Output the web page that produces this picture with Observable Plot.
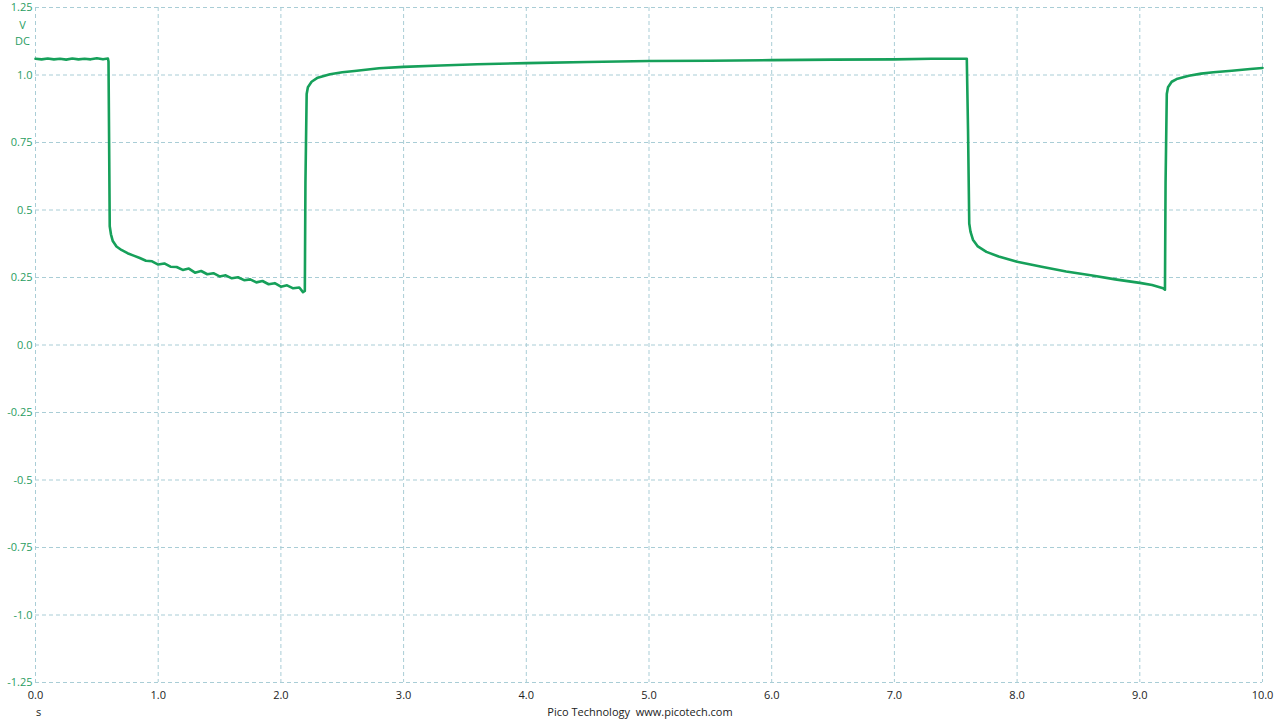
<!DOCTYPE html>
<html>
<head>
<meta charset="utf-8">
<script src="https://cdn.jsdelivr.net/npm/d3@7"></script>
<script src="https://cdn.jsdelivr.net/npm/@observablehq/plot@0.6"></script>
<style>
  html, body { margin: 0; padding: 0; background: #fff; }
  #wrap { width: 1280px; position: relative; font-family: "Open Sans", "DejaVu Sans", sans-serif; }
  #foot { position: relative; height: 16px; font-size: 11px; color: #222; }
  #foot .unit { position: absolute; left: 36px; top: 0px; }
  #foot .brand { position: absolute; left: 0; width: 1280px; text-align: center; top: 0px; }
</style>
</head>
<body>
<div id="wrap"></div>
<script>
// Time (s)
const time = [
  0, 0.05, 0.1, 0.15, 0.2, 0.25, 0.3, 0.35, 0.4, 0.45, 0.5, 0.55, 0.59, 0.595,
  0.6, 0.605, 0.615, 0.63, 0.66, 0.7, 0.75, 0.8, 0.85, 0.9, 0.95, 1.0, 1.05, 1.1, 1.15,
  1.2, 1.25, 1.3, 1.35, 1.4, 1.45, 1.5, 1.55, 1.6, 1.65, 1.7, 1.75, 1.8, 1.85, 1.9, 1.95,
  2.0, 2.05, 2.1, 2.15, 2.18, 2.195,
  2.2, 2.21, 2.22, 2.25, 2.3, 2.4, 2.5, 2.6, 2.8, 3.0, 3.3, 3.6, 4.0, 4.5, 5.0, 5.5,
  6.0, 6.5, 7.0, 7.3, 7.59,
  7.6, 7.61, 7.62, 7.64, 7.68, 7.75, 7.85, 8.0, 8.2, 8.4, 8.6, 8.8, 9.0, 9.1, 9.19, 9.205,
  9.21, 9.22, 9.23, 9.26, 9.3, 9.4, 9.5, 9.6, 9.75, 9.9, 10.0
];
// Voltage (V DC)
const volts = [
  1.06, 1.058, 1.061, 1.058, 1.06, 1.057, 1.061, 1.058, 1.06, 1.058, 1.062, 1.058, 1.061, 1.05,
  0.75, 0.44, 0.41, 0.385, 0.365, 0.352, 0.34, 0.331, 0.322, 0.312, 0.31, 0.298, 0.302, 0.29, 0.289,
  0.278, 0.283, 0.268, 0.274, 0.262, 0.266, 0.254, 0.258, 0.247, 0.251, 0.24, 0.243, 0.232, 0.237, 0.225, 0.229,
  0.216, 0.221, 0.21, 0.213, 0.196, 0.2,
  0.6, 0.93, 0.955, 0.975, 0.99, 1.003, 1.01, 1.015, 1.025, 1.03, 1.035, 1.04, 1.044, 1.048, 1.052, 1.053,
  1.055, 1.057, 1.058, 1.06, 1.06,
  0.8, 0.45, 0.42, 0.39, 0.365, 0.345, 0.328, 0.308, 0.29, 0.272, 0.258, 0.243, 0.23, 0.222, 0.21, 0.205,
  0.6, 0.93, 0.955, 0.975, 0.985, 0.997, 1.005, 1.01, 1.016, 1.022, 1.026
];
const xTicks = [0, 1, 2, 3, 4, 5, 6, 7, 8, 9, 10];
const yTicks = [1.25, 1.0, 0.75, 0.5, 0.25, 0.0, -0.25, -0.5, -0.75, -1.0, -1.25];
const yTickLabels = ["1.25", "1.0", "0.75", "0.5", "0.25", "0.0", "-0.25", "-0.5", "-0.75", "-1.0", "-1.25"];
const unitLabels = ["V", "DC"];
const footerUnit = "s";
const footerBrand = "Pico Technology\u00a0\u00a0www.picotech.com";

const data = time.map((t, i) => ({t, v: volts[i]}));
const green = "#16a05a";
const gridColor = "#a9cdd6";

const chart = Plot.plot({
  width: 1280,
  height: 704,
  marginLeft: 35,
  marginRight: 18,
  marginTop: 7,
  marginBottom: 22,
  style: { fontFamily: "'Open Sans', 'DejaVu Sans', sans-serif", fontSize: "11px", background: "#fff" },
  x: { domain: [0, 10], ticks: xTicks, tickFormat: d3.format(".1f"), tickSize: 0, tickPadding: 9, label: null },
  y: { domain: [-1.25, 1.25], ticks: yTicks, tickFormat: d => yTickLabels[yTicks.indexOf(d)] ?? d, tickSize: 0, tickPadding: 3, label: null },
  marks: [
    Plot.ruleX(xTicks, { stroke: gridColor, strokeDasharray: "4,3", strokeWidth: 1 }),
    Plot.ruleY(yTicks, { stroke: gridColor, strokeDasharray: "4,3", strokeWidth: 1 }),
    Plot.axisX({ ticks: xTicks, tickFormat: d3.format(".1f"), tickSize: 0, tickPadding: 9, fill: "#222", label: null }),
    Plot.axisY({ ticks: yTicks, tickFormat: d => yTickLabels[yTicks.indexOf(d)] ?? d, tickSize: 0, tickPadding: 3, fill: "#2a9d62", label: null }),
    Plot.line(data, { x: "t", y: "v", stroke: green, strokeWidth: 2.6, strokeLinejoin: "round" }),
    Plot.text([unitLabels.join("\n")], { frameAnchor: "top-left", dx: -13, dy: 10, text: d => d, fill: "#2a9d62", textAnchor: "middle", lineHeight: 1.45, fontSize: 11 })
  ]
});

const wrap = document.getElementById("wrap");
wrap.appendChild(chart);
const foot = document.createElement("div");
foot.id = "foot";
foot.innerHTML = `<span class="unit">${footerUnit}</span><span class="brand">${footerBrand}</span>`;
wrap.appendChild(foot);
</script>
</body>
</html>
